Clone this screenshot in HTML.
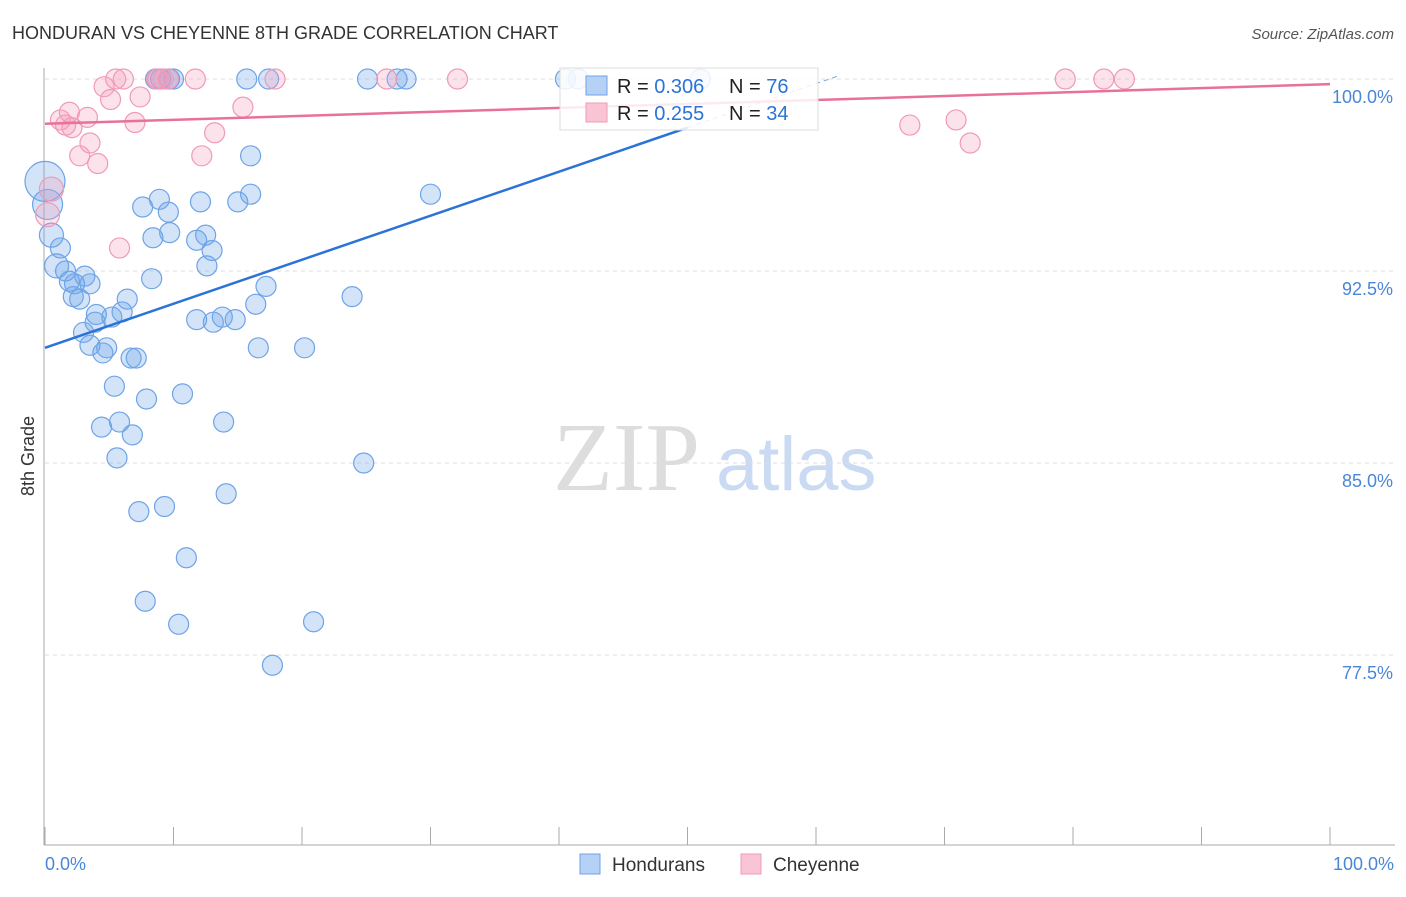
<!DOCTYPE html>
<html><head><meta charset="utf-8">
<style>
body{margin:0;background:#fff;width:1406px;height:892px;overflow:hidden;font-family:"Liberation Sans",sans-serif;}
svg text{font-family:"Liberation Sans",sans-serif;}
</style></head>
<body>
<svg id="chart" width="1406" height="892" viewBox="0 0 1406 892" xmlns="http://www.w3.org/2000/svg">
<text x="12" y="39" font-size="18" fill="#333">HONDURAN VS CHEYENNE 8TH GRADE CORRELATION CHART</text>
<text x="1394" y="39" font-size="15" fill="#555" text-anchor="end" font-style="italic">Source: ZipAtlas.com</text>
<g>
<text x="553" y="490" font-size="98" fill="#ddd" font-family="Liberation Serif, serif" style="font-family:'Liberation Serif',serif">ZIP</text>
<text x="716" y="490" font-size="76" fill="#c9daf2">atlas</text>
</g>
<g id="grid"></g>
<g id="axes"></g>
<g id="pts"></g>
<g id="trends"></g>
<g>
<rect x="560" y="68" width="258" height="62" fill="rgba(255,255,255,0.85)" stroke="#ddd"/>
<rect x="586" y="76" width="21" height="19" fill="#b5d1f5" stroke="#6ea3e8"/>
<text x="617" y="93" font-size="20" fill="#222">R = <tspan fill="#2b73d6">0.306</tspan></text>
<text x="729" y="93" font-size="20" fill="#222">N = <tspan fill="#2b73d6">76</tspan></text>
<rect x="586" y="103" width="21" height="19" fill="#f9c5d5" stroke="#f09ab5"/>
<text x="617" y="120" font-size="20" fill="#222">R = <tspan fill="#2b73d6">0.255</tspan></text>
<text x="729" y="120" font-size="20" fill="#222">N = <tspan fill="#2b73d6">34</tspan></text>
</g>
<g>
<rect x="580" y="854" width="20" height="20" fill="#b5d1f5" stroke="#6ea3e8"/>
<text x="612" y="871" font-size="19" fill="#333">Hondurans</text>
<rect x="741" y="854" width="20" height="20" fill="#f9c5d5" stroke="#f09ab5"/>
<text x="773" y="871" font-size="19" fill="#333">Cheyenne</text>
</g>
<text x="34" y="456" font-size="18" fill="#333" text-anchor="middle" transform="rotate(-90 34 456)">8th Grade</text>
<text x="45" y="870" font-size="18" fill="#4a86d8">0.0%</text>
<text x="1394" y="870" font-size="18" fill="#4a86d8" text-anchor="end">100.0%</text>
</svg>
<script>
const yTicks=[100,92.5,85,77.5];
const yTickLabels=["100.0%","92.5%","85.0%","77.5%"];
const xTicks=[0,10,20,30,40,50,60,70,80,90,100];
const hondX=[0,0.2,0.5,1.2,0.9,1.6,1.9,2.3,3.1,3.5,2.2,2.7,6.4,6.0,5.2,4.0,3.9,3.0,3.5,4.8,4.5,6.7,7.1,5.4,7.9,10.7,4.4,5.8,6.8,5.6,13.9,7.3,9.3,14.1,11.0,7.8,10.4,17.7,20.9,24.8,20.2,16.6,17.2,16.4,23.9,11.8,13.1,13.8,14.8,12.6,13.0,11.8,12.5,9.7,8.4,8.3,7.6,8.9,9.6,12.1,15.0,16.0,16.0,30.0,15.7,17.4,25.1,27.4,28.1,40.5,41.5,51.0,8.6,9.0,9.7,10.0];
const hondY=[96.0,95.1,93.9,93.4,92.7,92.5,92.1,92.0,92.3,92.0,91.5,91.4,91.4,90.9,90.7,90.8,90.5,90.1,89.6,89.5,89.3,89.1,89.1,88.0,87.5,87.7,86.4,86.6,86.1,85.2,86.6,83.1,83.3,83.8,81.3,79.6,78.7,77.1,78.8,85.0,89.5,89.5,91.9,91.2,91.5,90.6,90.5,90.7,90.6,92.7,93.3,93.7,93.9,94.0,93.8,92.2,95.0,95.3,94.8,95.2,95.2,95.5,97.0,95.5,100,100,100,100,100,100,100,100,100,100,100,100];
const hondSize=[20,15,12,10,12,10,10,10,10,10,10,10,10,10,10,10,10,10,10,10,10,10,10,10,10,10,10,10,10,10,10,10,10,10,10,10,10,10,10,10,10,10,10,10,10,10,10,10,10,10,10,10,10,10,10,10,10,10,10,10,10,10,10,10,10,10,10,10,10,10,10,10,10,10,10,10];
const cheyX=[0.2,0.5,1.2,1.6,2.1,1.9,3.3,2.7,3.5,4.1,4.6,5.5,6.1,5.1,7.4,7.0,5.8,8.7,9.2,9.6,11.7,12.2,13.2,15.4,17.9,26.6,32.1,67.3,70.9,72.0,79.4,82.4,84.0,8.8];
const cheyY=[94.7,95.7,98.4,98.2,98.1,98.7,98.5,97.0,97.5,96.7,99.7,100,100,99.2,99.3,98.3,93.4,100,100,100,100,97.0,97.9,98.9,100,100,100,98.2,98.4,97.5,100,100,100,100];
const hondTrend=[89.5,106.7];
const cheyTrend=[98.25,99.8];
const X0=45,X1=1330,Y100=79,PXPER=25.6;
const sx=v=>X0+(X1-X0)*v/100;
const sy=v=>Y100+(100-v)*PXPER;
const NS="http://www.w3.org/2000/svg";
function mk(tag,attrs,parent){const e=document.createElementNS(NS,tag);for(const k in attrs)e.setAttribute(k,attrs[k]);parent.appendChild(e);return e;}
const grid=document.getElementById('grid'),axes=document.getElementById('axes'),pts=document.getElementById('pts'),tr=document.getElementById('trends');
yTicks.forEach((t,i)=>{
 const l=mk('line',{x1:45,x2:1395,y1:sy(t),y2:sy(t),stroke:'#ddd','stroke-dasharray':'4,4'},grid);
 
 
 const tx=mk('text',{x:1393,y:sy(t)+24,'font-size':18,fill:'#4a86d8','text-anchor':'end'},axes);
 tx.textContent=yTickLabels[i];
 
 
});
let a=mk('line',{x1:44,x2:44,y1:68,y2:845,stroke:'#aaa'},axes);


a=mk('line',{x1:44,x2:1395,y1:845,y2:845,stroke:'#aaa'},axes);


xTicks.forEach(t=>{
 const l=mk('line',{x1:sx(t),x2:sx(t),y1:827,y2:845,stroke:'#aaa'},axes);
 
 
});
hondX.forEach((x,i)=>{
 const c=mk('circle',{cx:sx(x),cy:sy(hondY[i]),r:hondSize[i],fill:'rgba(110,165,232,0.3)',stroke:'#6ea3e8','stroke-width':1.2},pts);
 
 
});
cheyX.forEach((x,i)=>{
 const c=mk('circle',{cx:sx(x),cy:sy(cheyY[i]),r:i<2?12:10,fill:'rgba(244,160,188,0.3)',stroke:'#f09ab5','stroke-width':1.2},pts);
 
 
});
const hy=x=>hondTrend[0]+(hondTrend[1]-hondTrend[0])*x/100;
let l=mk('line',{x1:sx(0),y1:sy(hy(0)),x2:sx(50),y2:sy(hy(50)),stroke:'#2b73d6','stroke-width':2.5},tr);


const xEnd=(100.1-hondTrend[0])/(hondTrend[1]-hondTrend[0])*100;
l=mk('line',{x1:sx(50),y1:sy(hy(50)),x2:sx(xEnd),y2:sy(hy(xEnd)),stroke:'#6ea3e8','stroke-width':1,'stroke-dasharray':'5,4'},tr);


l=mk('line',{x1:sx(0),y1:sy(cheyTrend[0]),x2:sx(100),y2:sy(cheyTrend[1]),stroke:'#e8719a','stroke-width':2.5},tr);


</script>
</body></html>
